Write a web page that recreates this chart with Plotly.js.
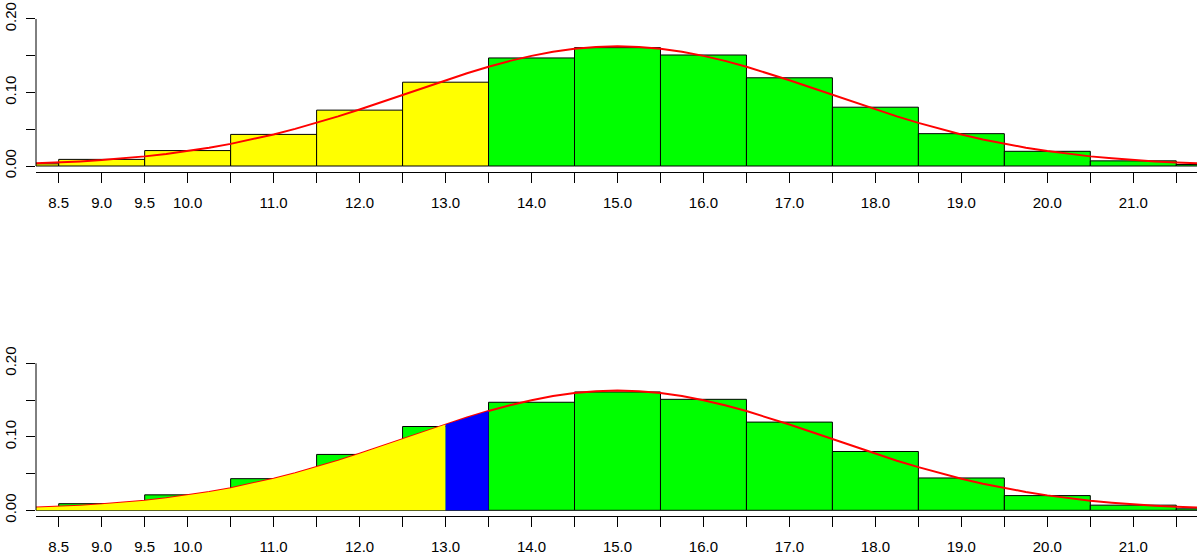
<!DOCTYPE html>
<html>
<head>
<meta charset="utf-8">
<script src="https://cdn.plot.ly/plotly-3.0.1.min.js"></script>
<style>html,body{margin:0;padding:0;background:#fff;}#chart{width:1197px;height:557px;}</style>
</head>
<body>
<div id="chart"></div>
<script>
// Bar data (probability of each count)
const binK = [8, 9, 10, 11, 12, 13, 14, 15, 16, 17, 18, 19, 20, 21, 22];
const binProb = [0.003, 0.009, 0.021, 0.043, 0.076, 0.114, 0.147, 0.161, 0.151, 0.120, 0.080, 0.044, 0.020, 0.007, 0.002];

// Normal density curve
const curveX = [8.0, 8.25, 8.5, 8.75, 9.0, 9.25, 9.5, 9.75, 10.0, 10.25, 10.5, 10.75, 11.0, 11.25, 11.5, 11.75,
  12.0, 12.25, 12.5, 12.75, 13.0, 13.25, 13.5, 13.75, 14.0, 14.25, 14.5, 14.75, 15.0, 15.25, 15.5, 15.75,
  16.0, 16.25, 16.5, 16.75, 17.0, 17.25, 17.5, 17.75, 18.0, 18.25, 18.5, 18.75, 19.0, 19.25, 19.5, 19.75,
  20.0, 20.25, 20.5, 20.75, 21.0, 21.25, 21.5, 21.75, 22.0];
const curveY = [0.0027, 0.0037, 0.0048, 0.0063, 0.0081, 0.0104, 0.0131, 0.0164, 0.0203, 0.0249, 0.0301, 0.0362,
  0.0429, 0.0505, 0.0587, 0.0675, 0.0769, 0.0867, 0.0968, 0.1068, 0.1167, 0.1262, 0.1350, 0.1430, 0.1498,
  0.1554, 0.1595, 0.1620, 0.1629, 0.1620, 0.1595, 0.1554, 0.1498, 0.1430, 0.1350, 0.1262, 0.1167, 0.1068,
  0.0968, 0.0867, 0.0769, 0.0675, 0.0587, 0.0505, 0.0429, 0.0362, 0.0301, 0.0249, 0.0203, 0.0164, 0.0131,
  0.0104, 0.0081, 0.0063, 0.0048, 0.0037, 0.0027];

// Tick labels
const xTickVals = [8.5, 9.0, 9.5, 10.0, 10.5, 11.0, 11.5, 12.0, 12.5, 13.0, 13.5, 14.0, 14.5, 15.0, 15.5, 16.0,
  16.5, 17.0, 17.5, 18.0, 18.5, 19.0, 19.5, 20.0, 20.5, 21.0, 21.5];
const xTickText = ['8.5', '9.0', '9.5', '10.0', '', '11.0', '', '12.0', '', '13.0', '', '14.0', '', '15.0', '',
  '16.0', '', '17.0', '', '18.0', '', '19.0', '', '20.0', '', '21.0', ''];
const yTickVals = [0, 0.05, 0.10, 0.15, 0.20];
const yTickText = ['0.00', '', '0.10', '', '0.20'];

// Split points for shading
const topCut = 13.5;      // top panel: bars left of this are yellow
const lowCut = 13.0;      // bottom panel: yellow area up to here
const highCut = 13.5;     // bottom panel: blue area between lowCut and highCut

const YELLOW = '#FFFF00', GREEN = '#00FF00', BLUE = '#0000FF', RED = '#FF0000';

const topColors = binK.map(k => (k < topCut ? YELLOW : GREEN));

const yellowX = [], yellowY = [], blueX = [], blueY = [];
curveX.forEach((x, i) => {
  if (x <= lowCut) { yellowX.push(x); yellowY.push(curveY[i]); }
  if (x >= lowCut && x <= highCut) { blueX.push(x); blueY.push(curveY[i]); }
});

const traces = [
  {type: 'bar', x: binK, y: binProb, width: 1, xaxis: 'x', yaxis: 'y',
   marker: {color: topColors, line: {color: '#000', width: 1}}, hoverinfo: 'skip'},
  {type: 'scatter', mode: 'lines', x: curveX, y: curveY, xaxis: 'x', yaxis: 'y',
   line: {color: RED, width: 2}, hoverinfo: 'skip'},
  {type: 'bar', x: binK, y: binProb, width: 1, xaxis: 'x2', yaxis: 'y2',
   marker: {color: GREEN, line: {color: '#000', width: 1}}, hoverinfo: 'skip'},
  {type: 'scatter', mode: 'lines', x: curveX, y: curveY, xaxis: 'x2', yaxis: 'y2',
   line: {color: RED, width: 2}, hoverinfo: 'skip'},
  {type: 'scatter', mode: 'lines', x: yellowX, y: yellowY, xaxis: 'x2', yaxis: 'y2',
   fill: 'tozeroy', fillcolor: YELLOW, line: {width: 0, color: YELLOW}, hoverinfo: 'skip'},
  {type: 'scatter', mode: 'lines', x: blueX, y: blueY, xaxis: 'x2', yaxis: 'y2',
   fill: 'tozeroy', fillcolor: BLUE, line: {width: 0, color: BLUE}, hoverinfo: 'skip'}
];

const font = {family: '"Liberation Sans", Arial, sans-serif', size: 15, color: '#000'};

function xAxis(anchor) {
  return {
    anchor: anchor, domain: [0, 1], range: [8.236, 21.741],
    tickmode: 'array', tickvals: xTickVals, ticktext: xTickText,
    ticks: 'outside', ticklen: 10, tickwidth: 1, tickcolor: '#000',
    showline: true, linecolor: '#000', linewidth: 1, ticklabelstandoff: 7,
    showgrid: false, zeroline: false, tickangle: 0, tickfont: font, fixedrange: true
  };
}
function yAxis(anchor, dom) {
  return {
    anchor: anchor, domain: dom, range: [-0.008, 0.208],
    tickmode: 'array', tickvals: yTickVals, ticktext: yTickText, tickangle: -90,
    ticks: 'outside', ticklen: 9, tickwidth: 1, tickcolor: '#000', ticklabelstandoff: 4,
    showline: false, showgrid: false, zeroline: false, tickfont: font, fixedrange: true
  };
}

const layout = {
  width: 1197, height: 557,
  margin: {l: 36, r: 0, t: 0, b: 0},
  paper_bgcolor: '#fff', plot_bgcolor: '#fff',
  showlegend: false, bargap: 0,
  font: font,
  xaxis: xAxis('y'),
  yaxis: yAxis('x', [0.6914, 0.9765]),
  xaxis2: xAxis('y2'),
  yaxis2: yAxis('x2', [0.0733, 0.3583]),
  shapes: [
    {type: 'line', xref: 'x domain', yref: 'y', x0: 0, x1: 0, y0: 0, y1: 0.2, line: {color: '#000', width: 1}},
    {type: 'line', xref: 'x2 domain', yref: 'y2', x0: 0, x1: 0, y0: 0, y1: 0.2, line: {color: '#000', width: 1}}
  ]
};

Plotly.newPlot('chart', traces, layout, {displayModeBar: false, staticPlot: true});
</script>
</body>
</html>
